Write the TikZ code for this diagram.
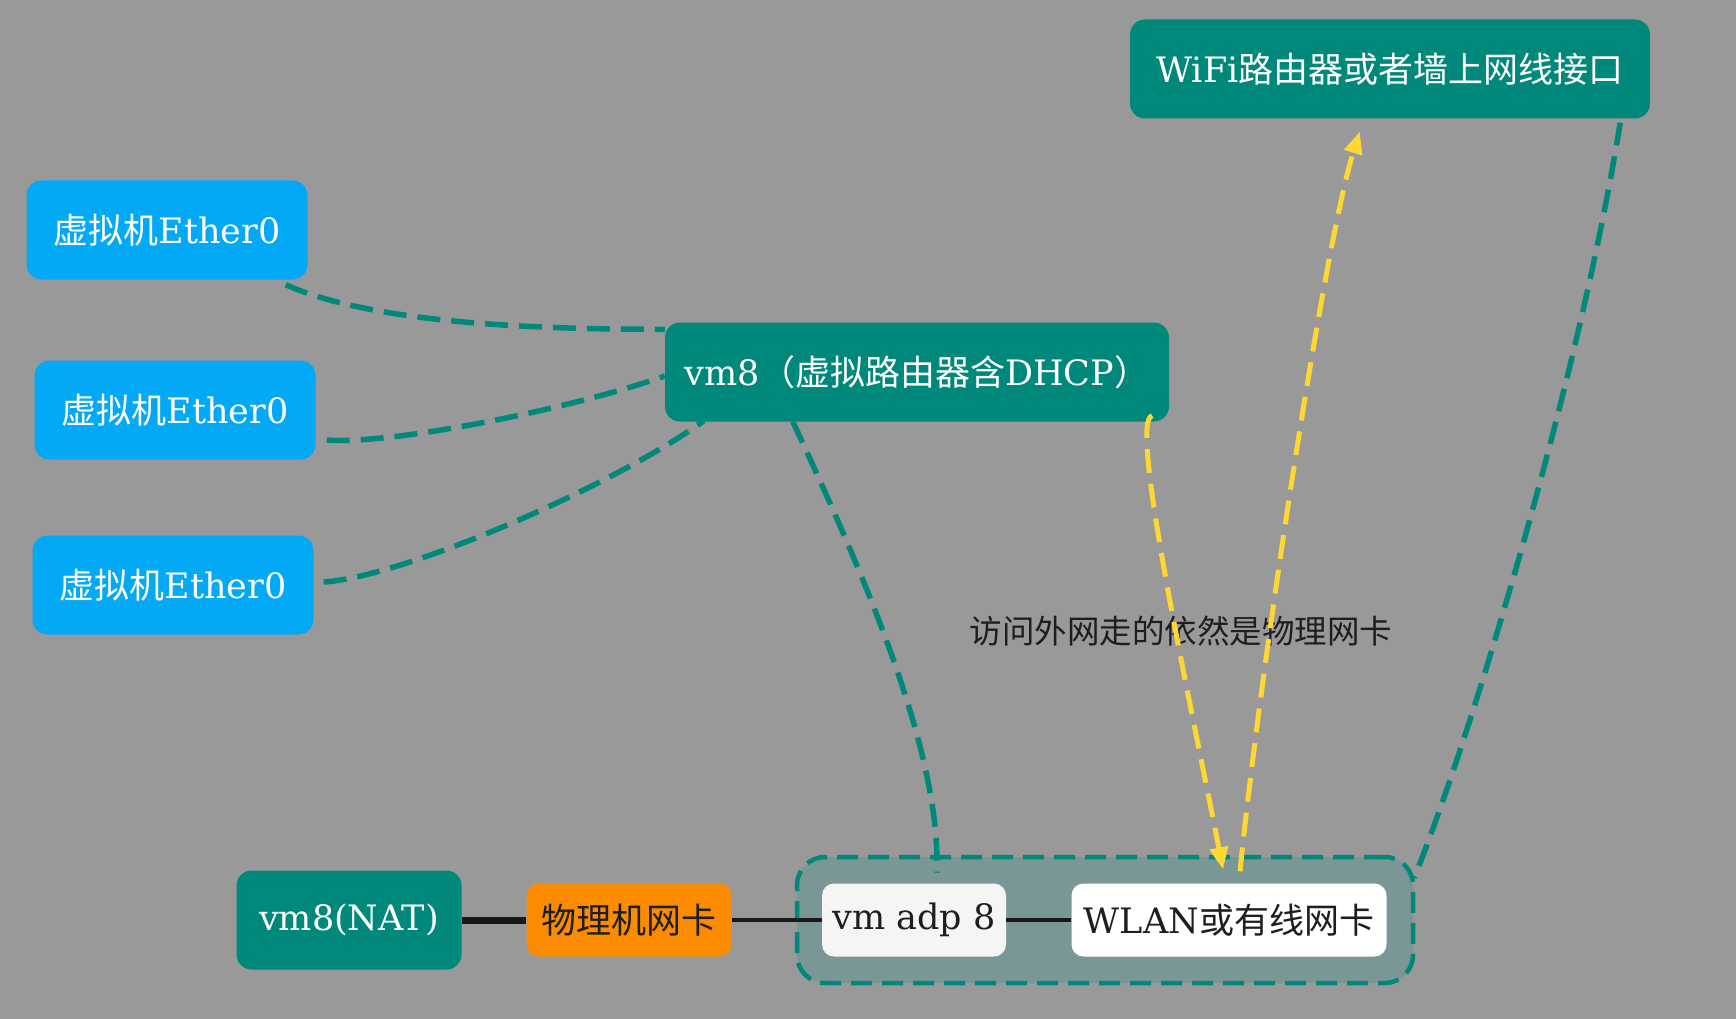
\documentclass[tikz,border=0pt]{standalone}
\usepackage{fontspec}
\setmainfont{DejaVu Serif}
\newfontfamily\cjk{Noto Sans CJK SC}
\usetikzlibrary{arrows.meta,calc}

\definecolor{bggray}{HTML}{999999}
\definecolor{skyblue}{HTML}{03A9F4}
\definecolor{vmteal}{HTML}{00897B}
\definecolor{niccolor}{HTML}{FB8C00}
\definecolor{grpfill}{HTML}{7A9695}
\definecolor{routeyellow}{HTML}{FDD835}
\definecolor{darktext}{HTML}{1E1E1E}

\newcommand{\zh}[1]{{\cjk #1}}

\begin{document}
\begin{tikzpicture}[x=1pt,y=-1pt,
    box/.style={rounded corners=15pt, text=white, minimum height=99pt, inner sep=0pt,
        font=\fontsize{35}{40}\selectfont},
    vmbox/.style={box, fill=skyblue, minimum width=281pt},
    routerbox/.style={box, fill=vmteal},
    cardbox/.style={box, minimum height=73pt, rounded corners=12pt},
    link/.style={vmteal, line width=5.5pt, dash pattern=on 23pt off 11pt},
    route/.style={routeyellow, line width=5pt, dash pattern=on 24pt off 11pt,
        -{Triangle[length=22pt,width=18pt]}},
    wire/.style={line width=7pt, black!90}
]

% Background
\fill[bggray] (0,0) rectangle (1736,1019);
\useasboundingbox (0,0) rectangle (1736,1019);

% Virtual machines
\node[vmbox] (eth1) at (167,230) {\zh{虚拟机}Ether0};
\node[vmbox] (eth2) at (175,410) {\zh{虚拟机}Ether0};
\node[vmbox] (eth3) at (173,585) {\zh{虚拟机}Ether0};

% Routers
\node[routerbox, minimum width=504pt] (vm8) at (917,372) {vm8\zh{（虚拟路由器含}DHCP\zh{）}};
\node[routerbox, minimum width=520pt] (wifi) at (1390,69) {WiFi\zh{路由器或者墙上网线接口}};

% Host side
\node[fill=grpfill, draw=vmteal, line width=4.5pt, dash pattern=on 21pt off 10pt,
    rounded corners=28pt, minimum width=616pt, minimum height=126pt] (host) at (1105,920) {};
\node[routerbox, minimum width=225pt] (nat) at (349,920) {vm8(NAT)};
\node[cardbox, fill=niccolor, text=darktext, minimum width=205pt] (nic) at (629,920) {\zh{物理机网卡}};
\node[cardbox, fill=white!96!black, text=darktext, minimum width=184pt] (adp) at (914,920) {vm adp 8};
\node[cardbox, fill=white, text=darktext, minimum width=315pt] (wlan) at (1229,920) {WLAN\zh{或有线网卡}};

% Label
\node[text=darktext, font=\cjk\fontsize{32.5}{38}\selectfont] (note) at (1181,631) {访问外网走的依然是物理网卡};

% Wires
\draw[wire] (nat) -- (nic);
\draw[wire, line width=4.5pt] (nic) -- (adp);
\draw[wire, line width=4.5pt] (adp) -- (wlan);

% Dashed links
\draw[link] ($(eth1.south east)+(-22,5)$) .. controls +(90,40) and +(-120,0) .. ($(vm8.north west)+(0,7)$);
\draw[link] ($(eth2.east)+(11,30)$) .. controls +(60,5) and +(-100,35) .. ($(vm8.west)+(0,4)$);
\draw[link] ($(eth3.east)+(10,-3)$) .. controls +(80,-5) and +(-90,65) .. ($(vm8.south west)+(39,-1)$);
\draw[link] ($(vm8.south west)+(128,0)$) .. controls +(70,150) and +(5,-120) .. ($(host.north west)+(142,18)$);
\draw[link] ($(wifi.south east)+(-30,4)$) .. controls +(-40,250) and +(60,-150) .. ($(host.north east)+(-1,23)$);

% Yellow routes
\draw[route] ($(vm8.south east)+(-17,-6)$) .. controls +(-24,4) and +(-33,-169) .. ($(wlan.north)+(-6,-14)$);
\draw[route] ($(wlan.north)+(11,-12)$) .. controls +(20,-200) and +(-35,110) .. ($(wifi.south west)+(230,13)$);

\end{tikzpicture}
\end{document}
